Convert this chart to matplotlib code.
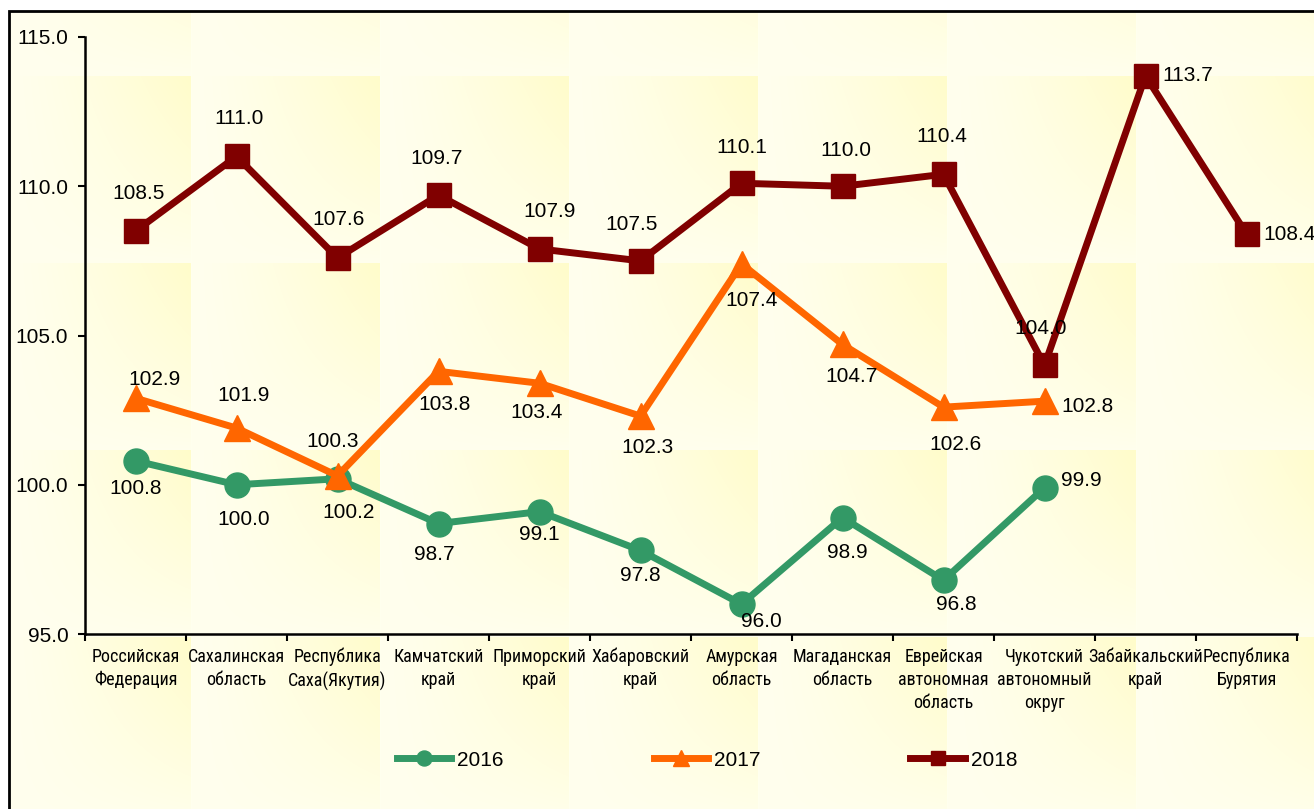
import numpy as np
import matplotlib
matplotlib.use("Agg")
import matplotlib.pyplot as plt
from matplotlib.patches import Rectangle

plt.rcParams['font.family'] = ['Liberation Sans', 'DejaVu Sans']
NARROW = ['Roboto Condensed', 'DejaVu Sans']

# данные
regions = ["Российская\nФедерация", "Сахалинская\nобласть", "Республика\nСаха(Якутия)",
           "Камчатский\nкрай", "Приморский\nкрай", "Хабаровский\nкрай", "Амурская\nобласть",
           "Магаданская\nобласть", "Еврейская\nавтономная\nобласть", "Чукотский\nавтономный\nокруг",
           "Забайкальский\nкрай", "Республика\nБурятия"]
years = ["2016", "2017", "2018"]
v2016 = [100.8, 100.0, 100.2, 98.7, 99.1, 97.8, 96.0, 98.9, 96.8, 99.9, np.nan, np.nan]
v2017 = [102.9, 101.9, 100.3, 103.8, 103.4, 102.3, 107.4, 104.7, 102.6, 102.8, np.nan, np.nan]
v2018 = [108.5, 111.0, 107.6, 109.7, 107.9, 107.5, 110.1, 110.0, 110.4, 104.0, 113.7, 108.4]
y_ticks = [95, 100, 105, 110, 115]

# смещения подписей в пикселях (dx, dy вниз), 'l' - подпись справа от точки
off2016 = [(0, 28), (7, 35), (11, 34), (-4, 31), (0, 23), (0, 25), (20, 17), (5, 35), (13, 24), ('l', -7)]
off2017 = [(19, -19), (7, -33), (-5, -34), (6, 33), (-3, 29), (7, 31), (10, 37), (9, 32), (12, 37), ('l', 5)]
off2018 = [(3, -38), (3, -38), (1, -38), (-2, -37), (10, -37), (-9, -36), (0, -36), (3, -36), (-2, -38),
           (-4, -37), ('l', 0), ('l', 0)]

W, H = 1314, 809
fig = plt.figure(figsize=(W / 100, H / 100), dpi=100)

# фон: бледно-жёлтая "плитка" с градиентом
xx = np.arange(W)
yy = np.arange(H)
tx = ((xx - 2) % 189) / 189.0
ty = ((yy - 76) % 187) / 187.0
k = (tx[None, :] ** 1.3) * ((1 - ty[:, None]) ** 0.8)
pale = np.array([255, 255, 238]) / 255.0
yel = np.array([255, 252, 202]) / 255.0
tex = pale[None, None, :] * (1 - k[..., None]) + yel[None, None, :] * k[..., None]
tex[:11, :, :] = 1.0
tex[:, :9, :] = 1.0
bg = fig.add_axes([0, 0, 1, 1], zorder=-10)
bg.imshow(tex, aspect='auto', extent=[0, 1, 0, 1], interpolation='nearest')
bg.axis('off')
fig.patches.append(Rectangle((9 / W, -0.05), 1.2, 1 - 11 / H + 0.05, transform=fig.transFigure,
                             fill=False, lw=2, ec='black', zorder=5))

ax = fig.add_axes([85 / W, 1 - 634 / H, (1297 - 85) / W, (634 - 37) / H])
ax.patch.set_alpha(0)

x = np.arange(len(regions))
series = [(v2016, '#339966', 'o', 18, off2016),
          (v2017, '#FF6600', '^', 19, off2017),
          (v2018, '#800000', 's', 17, off2018)]

for (vals, col, mk, ms, offs), name in zip(series, years):
    ax.plot(x, vals, color=col, lw=5, marker=mk, ms=ms, label=name, zorder=3)
    for i, v in enumerate(vals):
        if np.isnan(v):
            continue
        dx, dy = offs[i]
        if dx == 'l':
            ax.annotate(f"{v:.1f}", (x[i], v), xytext=(17, -dy), textcoords='offset pixels',
                        ha='left', va='center', fontsize=15, zorder=4)
        else:
            ax.annotate(f"{v:.1f}", (x[i], v), xytext=(dx, -dy), textcoords='offset pixels',
                        ha='center', va='center', fontsize=15, zorder=4)

ax.set_ylim(95, 115)
ax.set_yticks(y_ticks)
ax.set_yticklabels([f"{t:.1f}" for t in y_ticks], fontsize=15)
ax.set_xlim(-0.5, len(regions) - 0.5)
ax.set_xticks(np.arange(-0.5, len(regions), 1))
ax.set_xticklabels([])

ax.set_xticks(x, minor=True)
ax.set_xticklabels(regions, minor=True, fontsize=13, family=NARROW, linespacing=1.35)
ax.tick_params(axis='x', which='minor', length=0, pad=10)
ax.tick_params(axis='both', which='major', length=5, width=1.5, direction='out', pad=7)

for s in ['top', 'right']:
    ax.spines[s].set_visible(False)
for s in ['left', 'bottom']:
    ax.spines[s].set_linewidth(1.8)

ax.legend(loc='center', bbox_to_anchor=(707 / W, 1 - 760 / H), bbox_transform=fig.transFigure,
          ncol=3, frameon=False, handlelength=2.6, columnspacing=7.2, markerscale=0.6,
          fontsize=15, handletextpad=0.3)

fig.savefig("out.png", dpi=100)
